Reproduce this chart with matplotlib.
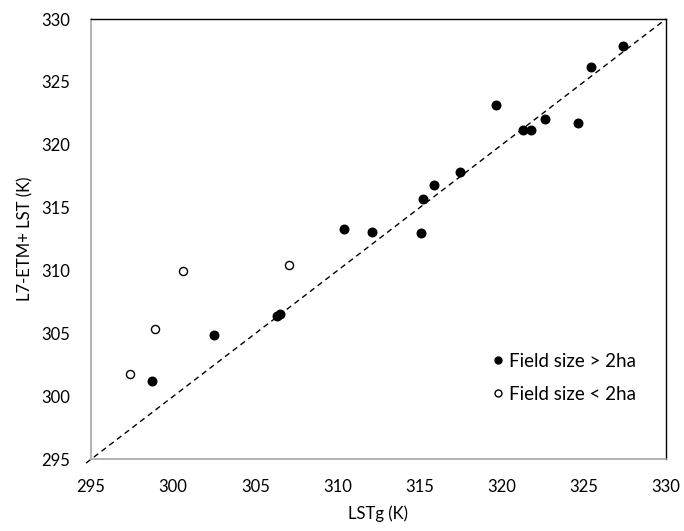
import matplotlib
matplotlib.use("Agg")
import matplotlib.pyplot as plt
from matplotlib.lines import Line2D

plt.rcParams['font.family'] = ['Lato', 'DejaVu Sans']

# Field size > 2ha (filled)
big_x = [298.73, 302.47, 306.30, 306.50, 310.42, 312.08, 315.09, 315.19, 315.89,
         317.48, 319.63, 321.31, 321.78, 322.65, 324.64, 325.41, 327.36]
big_y = [301.25, 304.86, 306.42, 306.53, 313.28, 313.09, 312.97, 315.67, 316.83,
         317.86, 323.14, 321.20, 321.20, 322.03, 321.71, 326.18, 327.83]
# Field size < 2ha (open)
small_x = [300.58, 307.07, 298.91, 297.37]
small_y = [309.97, 310.47, 305.38, 301.76]

ticks = [295, 300, 305, 310, 315, 320, 325, 330]
labels = ["Field size > 2ha", "Field size < 2ha"]

fig = plt.figure(figsize=(6.84, 5.31), dpi=100)
ax = fig.add_axes([91/684, 1-459.3/531, 575/684, 440.3/531])

ax.plot([294.7, 330], [294.7, 330], ls=(0, (4, 3)), color='black', lw=1.0,
        clip_on=False, zorder=1)
ax.scatter(big_x, big_y, s=38, color='black', zorder=3)
ax.scatter(small_x, small_y, s=34, facecolor='white', edgecolor='black',
           linewidth=1.0, zorder=3)

ax.set_xlim(295, 330)
ax.set_ylim(295, 330)
ax.set_xticks(ticks)
ax.set_yticks(ticks)
ax.tick_params(axis='x', length=0, labelsize=12, pad=14)
ax.tick_params(axis='y', length=0, labelsize=12, pad=15)
ax.set_xlabel("LSTg (K)", fontsize=12, labelpad=8)
ax.set_ylabel("L7-ETM+ LST (K)", fontsize=12, labelpad=6)

for s in ['left', 'bottom']:
    ax.spines[s].set_color('#A6A6A6')
    ax.spines[s].set_linewidth(1.2)
for s in ['top', 'right']:
    ax.spines[s].set_color('black')
    ax.spines[s].set_linewidth(1.0)

handles = [
    Line2D([], [], marker='o', ls='', markersize=5, markerfacecolor='black',
           markeredgecolor='black'),
    Line2D([], [], marker='o', ls='', markersize=5, markerfacecolor='white',
           markeredgecolor='black'),
]
ax.legend(handles, labels, loc='lower right', bbox_to_anchor=(0.977, 0.09),
          frameon=False, fontsize=13.5, handletextpad=0.1, handlelength=1.0,
          labelspacing=0.85)

fig.savefig("out.png", dpi=100)
